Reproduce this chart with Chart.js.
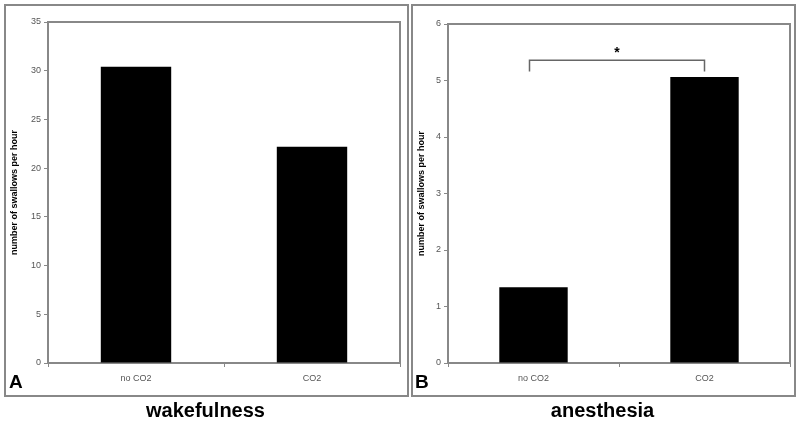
<!DOCTYPE html>
<html>
<head>
<meta charset="utf-8">
<script src="https://cdn.jsdelivr.net/npm/chart.js@4/dist/chart.umd.min.js"></script>
<style>
  body { margin: 0; width: 800px; height: 421px; background: #fff; position: relative; overflow: hidden; font-family: "Liberation Sans", Arial, sans-serif; }
  .panel { position: absolute; top: 4px; height: 389px; border: 2px solid #888; box-sizing: content-box; }
  .panel canvas { position: absolute; left: 0; top: 0; }
  .letter { position: absolute; font-weight: bold; font-size: 19px; line-height: 19px; color: #000; }
  .caption { position: absolute; top: 400px; font-weight: bold; font-size: 20px; line-height: 20px; color: #000; text-align: center; }
</style>
</head>
<body>
<div class="panel" id="panelA" style="left:4px; width:401px;"><canvas id="chartA"></canvas></div>
<div class="panel" id="panelB" style="left:411px; width:381px;"><canvas id="chartB"></canvas></div>
<div class="letter" style="left:9px; top:372px;">A</div>
<div class="letter" style="left:415px; top:372px;">B</div>
<div class="caption" style="left:4px; width:403px;">wakefulness</div>
<div class="caption" style="left:411px; width:383px;">anesthesia</div>

<script>
/* --------------------------------------------
   Data
-------------------------------------------- */
const categories = ["no CO2", "CO2"];
const wakeValues = [30.4, 22.2];
const anesValues = [1.34, 5.06];
const wakeTicks = { min: 0, max: 35, step: 5 };
const anesTicks = { min: 0, max: 6, step: 1 };

// significance bracket for the anesthesia panel
const bracketFrom = 0;
const bracketTo = 1;
const bracketTop = 5.36;
const bracketFoot = 5.16;
const bracketLabel = "*";

const axisGray = "#888";
const tickGray = "#555";

/* --------------------------------------------
   Plugins
-------------------------------------------- */
const plotBox = {
  id: "plotBox",
  afterDraw: (chart) => {
    const { ctx, chartArea: a } = chart;
    ctx.save();
    ctx.strokeStyle = axisGray;
    ctx.lineWidth = 2;
    ctx.beginPath();
    ctx.moveTo(a.left, a.top);
    ctx.lineTo(a.right, a.top);
    ctx.lineTo(a.right, a.bottom);
    ctx.stroke();
    ctx.restore();
  },
};

const bracket = {
  id: "bracket",
  afterDraw: (chart, args, opts) => {
    if (!opts.show) return;
    const { ctx, scales } = chart;
    const x0 = scales.x.getPixelForValue(bracketFrom) - 4;
    const x1 = scales.x.getPixelForValue(bracketTo);
    const yt = scales.y.getPixelForValue(bracketTop);
    const yf = scales.y.getPixelForValue(bracketFoot);
    ctx.save();
    ctx.strokeStyle = "#666";
    ctx.lineWidth = 1.5;
    ctx.beginPath();
    ctx.moveTo(x0, yf);
    ctx.lineTo(x0, yt);
    ctx.lineTo(x1, yt);
    ctx.lineTo(x1, yf);
    ctx.stroke();
    ctx.fillStyle = "#000";
    ctx.font = "bold 14px 'Liberation Sans', Arial, sans-serif";
    ctx.textAlign = "center";
    ctx.textBaseline = "middle";
    ctx.fillText(bracketLabel, (x0 + x1) / 2, yt - 7);
    ctx.restore();
  },
};

/* --------------------------------------------
   Chart builder
-------------------------------------------- */
const makeChart = (id, w, h, values, ticks, yWidth, pad, showBracket) => {
  const canvas = document.getElementById(id);
  canvas.style.width = w + "px";
  canvas.style.height = h + "px";
  canvas.width = w;
  canvas.height = h;

  return new Chart(canvas, {
    type: "bar",
    data: {
      labels: categories,
      datasets: [
        {
          data: values,
          backgroundColor: "#000",
          borderColor: "#000",
          borderWidth: 0,
          categoryPercentage: 0.8,
          barPercentage: 0.5,
        },
      ],
    },
    options: {
      responsive: false,
      animation: false,
      layout: { padding: pad },
      plugins: {
        legend: { display: false },
        tooltip: { enabled: false },
        bracket: { show: showBracket },
      },
      scales: {
        x: {
          afterFit: (s) => { s.height = 32; },
          grid: {
            offset: true,
            drawOnChartArea: false,
            color: axisGray,
            tickLength: 4,
          },
          border: { color: axisGray, width: 2 },
          ticks: {
            color: tickGray,
            padding: 6,
            font: { size: 9, family: "'Liberation Sans', Arial, sans-serif" },
          },
        },
        y: {
          min: ticks.min,
          max: ticks.max,
          afterFit: (s) => { s.width = yWidth; },
          grid: {
            drawOnChartArea: false,
            color: axisGray,
            tickLength: 4,
          },
          border: { color: axisGray, width: 2 },
          ticks: {
            stepSize: ticks.step,
            color: tickGray,
            padding: 3,
            font: { size: 9, family: "'Liberation Sans', Arial, sans-serif" },
          },
          title: {
            display: true,
            text: "number of swallows per hour",
            color: "#000",
            padding: { top: 3, bottom: 0 },
            font: { size: 9, weight: "bold", family: "'Liberation Sans', Arial, sans-serif" },
          },
        },
      },
    },
    plugins: [plotBox, bracket],
  });
};

/* --------------------------------------------
   Boot
-------------------------------------------- */
// panel A canvas starts at x=6,y=6 (inside border); plot area 48..400, 22..363
makeChart("chartA", 401, 389, wakeValues, wakeTicks, 42, { top: 16, right: 7, bottom: 0, left: 0 }, false);
// panel B canvas starts at x=413,y=6; plot area 448..788, 24..363
makeChart("chartB", 381, 389, anesValues, anesTicks, 35, { top: 18, right: 4, bottom: 0, left: 0 }, true);
</script>
</body>
</html>
